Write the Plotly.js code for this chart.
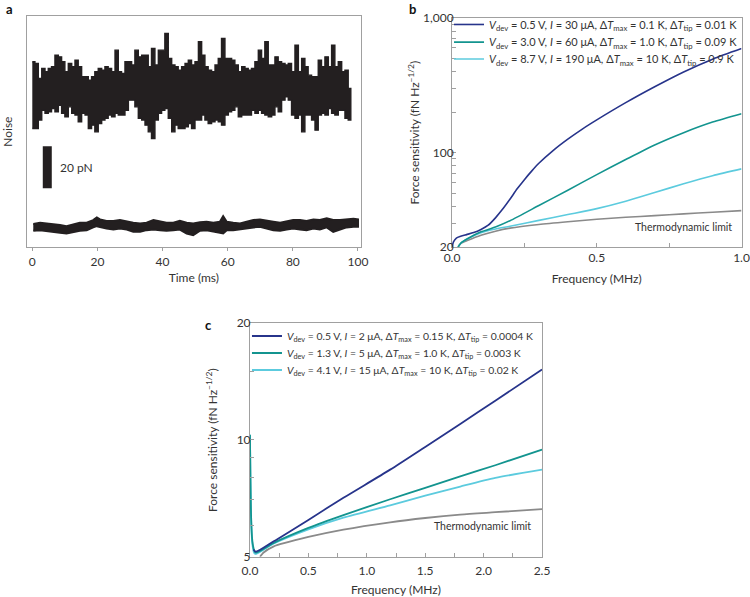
<!DOCTYPE html>
<html>
<head>
<meta charset="utf-8">
<script src="https://cdn.plot.ly/plotly-3.0.1.min.js"></script>
<style>html,body{margin:0;padding:0;background:#fff;}#chart{width:750px;height:597px;}</style>
</head>
<body>
<div id="chart"></div>
<script>
// ---------- Panel a: noise traces (pN), envelope ----------
const tUpper = [0.3,1.3,2.4,3.4,4.4,5.4,6.4,7.5,8.5,9.5,10.5,11.6,12.6,13.6,14.6,15.7,16.7,17.7,18.7,19.7,20.8,21.8,22.8,23.8,24.9,25.9,26.9,27.9,29.0,30.0,31.0,32.0,33.1,34.1,35.1,36.1,37.1,38.2,39.2,40.2,41.2,42.3,43.3,44.3,45.3,46.4,47.4,48.4,49.4,50.5,51.5,52.5,53.5,54.5,55.6,56.6,57.6,58.6,59.7,60.7,61.7,62.7,63.8,64.8,65.8,66.8,67.8,68.9,69.9,70.9,71.9,73.0,74.0,75.0,76.0,77.1,78.1,79.1,80.1,81.2,82.2,83.2,84.2,85.2,86.3,87.3,88.3,89.3,90.4,91.4,92.4,93.4,94.5,95.5,96.5,97.5];
const upperHigh = [88.3,87.5,80.3,85.1,83.5,85.1,85.9,91.4,90.6,88.3,83.5,87.5,85.9,89.0,85.9,81.1,81.1,79.5,81.1,83.5,85.1,84.3,85.9,85.1,83.5,93.8,83.5,82.7,88.3,88.3,86.7,93.8,90.6,91.4,91.4,85.9,94.6,86.7,93.8,93.8,101.7,89.8,86.7,85.9,84.3,85.9,87.5,89.0,86.7,88.3,97.8,91.4,85.9,84.3,83.5,86.7,89.8,99.4,89.8,89.8,89.0,86.7,83.5,85.9,85.1,84.3,85.1,88.3,93.8,89.8,97.8,86.7,86.7,90.6,88.3,87.5,86.7,87.5,83.5,96.2,83.5,89.8,85.9,81.9,81.1,81.1,89.0,85.9,90.6,85.9,96.2,85.9,88.3,83.5,84.3,75.6];
const upperLow = [56.5,56.5,60.5,65.2,63.7,64.4,66.0,64.4,67.6,63.7,62.1,66.8,63.7,62.9,59.7,63.7,62.9,56.5,58.1,54.9,58.9,60.5,61.3,62.9,62.1,63.7,62.9,62.9,65.2,70.0,70.0,66.8,61.3,60.5,58.1,54.9,51.7,60.5,63.7,65.2,66.0,61.3,54.9,58.1,56.5,56.5,57.3,58.9,56.5,60.5,60.5,62.9,60.5,58.9,59.7,60.5,59.7,58.1,62.9,64.4,65.2,66.8,62.1,62.9,62.9,62.9,65.2,63.7,65.2,63.7,62.9,62.1,62.9,66.8,64.4,70.0,71.6,70.0,62.9,61.3,62.9,54.9,62.9,62.9,60.5,55.7,62.9,63.7,62.9,66.0,63.7,62.9,65.2,65.2,61.3,60.5];

const tLower = [0.3,2.4,4.4,6.4,8.5,10.5,12.6,14.6,16.7,18.7,19.8,20.8,22.8,24.9,26.9,29.0,31.0,33.1,35.1,37.2,39.2,41.2,43.3,45.3,47.4,49.4,51.5,53.5,55.6,57.6,58.6,59.7,61.7,63.8,65.8,67.9,69.9,72.0,74.0,76.1,78.1,80.1,82.2,84.2,86.3,88.3,90.4,92.4,94.5,96.5,98.6,100.0];
const lowerHigh = [11.0,11.6,11.3,11.0,10.5,10.0,11.0,11.6,11.6,12.9,14.1,13.2,12.5,12.5,12.9,12.1,11.6,11.3,11.6,12.9,12.1,11.6,11.6,12.5,11.6,11.3,11.9,12.1,11.6,12.1,14.8,12.1,11.6,11.3,12.1,12.9,13.2,12.5,12.1,11.6,12.1,12.9,12.9,12.5,13.2,12.9,13.7,12.9,12.9,13.2,13.5,13.2];
const lowerLow = [7.8,8.1,7.8,7.3,6.8,6.5,7.3,7.8,8.1,9.4,10.0,9.7,8.9,8.4,8.9,8.4,7.3,7.3,8.1,8.4,8.1,7.8,8.1,8.4,6.5,5.7,7.8,8.1,7.3,6.8,6.5,8.1,8.1,8.4,8.9,9.4,9.7,8.9,8.1,7.8,8.4,8.9,8.4,8.1,8.9,8.4,9.4,7.3,8.4,9.4,9.7,9.7];

const scaleBarT = [4.6, 4.6];
const scaleBarPN = [28, 48];
const timeTicks = [0, 20, 40, 60, 80, 100];

// ---------- Panel b (frequency in MHz, sensitivity in fN Hz^-1/2) ----------
const bBlueF  = [0, 0.005, 0.015, 0.03, 0.05, 0.075, 0.1, 0.125, 0.15, 0.175, 0.2, 0.225, 0.25, 0.275, 0.3, 0.35, 0.4, 0.45, 0.5, 0.6, 0.7, 0.8, 0.9, 1.0];
const bBlueV  = [20, 21.8, 23.3, 24.0, 24.7, 25.6, 27.0, 29.0, 32.9, 38.2, 45.2, 54.0, 63.2, 73.1, 83.6, 104.3, 126.2, 150, 175.4, 235.5, 309, 398, 495, 593];
const bTealF  = [0.021, 0.03, 0.055, 0.1, 0.15, 0.2, 0.3, 0.4, 0.5, 0.6, 0.7, 0.8, 0.9, 1.0];
const bTealV  = [20, 21.3, 23.1, 25.9, 28.1, 31.3, 40.6, 52.8, 68.9, 89.1, 114.3, 141, 169, 195];
const bCyanF  = [0.021, 0.03, 0.055, 0.1, 0.15, 0.2, 0.3, 0.4, 0.5, 0.6, 0.7, 0.8, 0.9, 1.0];
const bCyanV  = [20, 21.3, 23.1, 25.5, 27.2, 28.5, 31.5, 34.8, 38.5, 43.7, 50.7, 58.9, 67.6, 76.0];
const bGrayF  = [0.021, 0.03, 0.055, 0.1, 0.15, 0.2, 0.3, 0.4, 0.5, 0.6, 0.7, 0.8, 0.9, 1.0];
const bGrayV  = [20, 21.2, 22.4, 24.4, 26.2, 27.6, 29.4, 30.8, 32.1, 33.2, 34.2, 35.2, 36.2, 37.2];

// ---------- Panel c ----------
const cBlueF  = [0.03, 0.05, 0.2, 0.5, 0.8, 1.2, 1.5, 1.8, 2.1, 2.5];
const cBlueV  = [5.22, 5.15, 5.47, 6.22, 7.09, 8.38, 9.59, 10.99, 12.61, 15.17];
const cTealF  = [0, 0.004, 0.01, 0.02, 0.035, 0.05, 0.2, 0.5, 0.8, 1.2, 1.5, 1.8, 2.1, 2.5];
const cTealV  = [10.3, 8.0, 6.3, 5.5, 5.2, 5.12, 5.42, 5.93, 6.4, 7.03, 7.52, 8.05, 8.6, 9.44];
const cCyanF  = [0, 0.004, 0.01, 0.02, 0.035, 0.05, 0.2, 0.5, 0.8, 1.2, 1.5, 1.8, 2.1, 2.5];
const cCyanV  = [10.3, 8.0, 6.2, 5.4, 5.12, 5.08, 5.4, 5.88, 6.3, 6.78, 7.18, 7.58, 7.98, 8.38];
const cGrayF  = [0.086, 0.1, 0.114, 0.2, 0.5, 0.8, 1.2, 1.5, 1.8, 2.1, 2.5];
const cGrayV  = [5.0, 5.06, 5.12, 5.31, 5.62, 5.87, 6.13, 6.29, 6.42, 6.51, 6.63];

const bLabels = [
  '<i>V</i><sub>dev</sub> = 0.5 V, <i>I</i> = 30 μA, Δ<i>T</i><sub>max</sub> = 0.1 K, Δ<i>T</i><sub>tip</sub> = 0.01 K',
  '<i>V</i><sub>dev</sub> = 3.0 V, <i>I</i> = 60 μA, Δ<i>T</i><sub>max</sub> = 1.0 K, Δ<i>T</i><sub>tip</sub> = 0.09 K',
  '<i>V</i><sub>dev</sub> = 8.7 V, <i>I</i> = 190 μA, Δ<i>T</i><sub>max</sub> = 10 K, Δ<i>T</i><sub>tip</sub> = 0.9 K'
];
const cLabels = [
  '<i>V</i><sub>dev</sub> = 0.5 V, <i>I</i> = 2 μA, Δ<i>T</i><sub>max</sub> = 0.15 K, Δ<i>T</i><sub>tip</sub> = 0.0004 K',
  '<i>V</i><sub>dev</sub> = 1.3 V, <i>I</i> = 5 μA, Δ<i>T</i><sub>max</sub> = 1.0 K, Δ<i>T</i><sub>tip</sub> = 0.003 K',
  '<i>V</i><sub>dev</sub> = 4.1 V, <i>I</i> = 15 μA, Δ<i>T</i><sub>max</sub> = 10 K, Δ<i>T</i><sub>tip</sub> = 0.02 K'
];
const bYTicks = [20, 100, 1000];
const bYTickText = ['20', '100', '1,000'];
const bYMinor = [30,40,50,60,70,80,90,200,300,400,500,600,700,800,900];
const cYTicks = [5, 10, 20];
const cYMinor = [6,7,8,9,15];
const yTitle = 'Force sensitivity (fN Hz<sup>−1/2</sup>)';

const colBlue = '#27348b', colTeal = '#13948f', colCyan = '#5ccbde', colGray = '#8a8a8a', ink = '#231f20';

// Filled noise band: stepped top envelope forward, stepped bottom envelope back
function bandStep(t, hi, lo) {
  const n = Math.min(t.length, hi.length, lo.length);
  const edge = i => (i <= 0 ? t[0] - 0.3 : i >= n ? t[n-1] + 0.3 : (t[i-1] + t[i]) / 2);
  const x = [], y = [];
  for (let i = 0; i < n; i++) { x.push(edge(i), edge(i+1)); y.push(hi[i], hi[i]); }
  for (let i = n - 1; i >= 0; i--) { x.push(edge(i+1), edge(i)); y.push(lo[i], lo[i]); }
  return {x, y};
}
function bandLine(t, hi, lo) {
  const n = Math.min(t.length, hi.length, lo.length);
  const x = [], y = [];
  for (let i = 0; i < n; i++) { x.push(t[i]); y.push(hi[i]); }
  for (let i = n - 1; i >= 0; i--) { x.push(t[i]); y.push(lo[i]); }
  return {x, y};
}
const up = bandStep(tUpper, upperHigh, upperLow);
const lo = bandLine(tLower, lowerHigh, lowerLow);

const sp = {shape: 'spline', smoothing: 0.7};
const traces = [
  {x: up.x, y: up.y, xaxis: 'x', yaxis: 'y', mode: 'lines', fill: 'toself', fillcolor: ink, line: {color: ink, width: 1.4}, showlegend: false, hoverinfo: 'skip'},
  {x: lo.x, y: lo.y, xaxis: 'x', yaxis: 'y', mode: 'lines', fill: 'toself', fillcolor: ink, line: {color: ink, width: 2}, showlegend: false, hoverinfo: 'skip'},
  {x: scaleBarT, y: scaleBarPN, xaxis: 'x', yaxis: 'y', mode: 'lines', line: {color: ink, width: 9}, showlegend: false, hoverinfo: 'skip'},

  {x: bGrayF, y: bGrayV, xaxis: 'x2', yaxis: 'y2', mode: 'lines', line: Object.assign({color: colGray, width: 1.6}, sp), showlegend: false},
  {x: bCyanF, y: bCyanV, xaxis: 'x2', yaxis: 'y2', mode: 'lines', line: Object.assign({color: colCyan, width: 1.6}, sp), name: bLabels[2], legend: 'legend3'},
  {x: bTealF, y: bTealV, xaxis: 'x2', yaxis: 'y2', mode: 'lines', line: Object.assign({color: colTeal, width: 1.6}, sp), name: bLabels[1], legend: 'legend2'},
  {x: bBlueF, y: bBlueV, xaxis: 'x2', yaxis: 'y2', mode: 'lines', line: Object.assign({color: colBlue, width: 1.6}, sp), name: bLabels[0], legend: 'legend'},

  {x: cGrayF, y: cGrayV, xaxis: 'x3', yaxis: 'y3', mode: 'lines', line: Object.assign({color: colGray, width: 1.8}, sp), showlegend: false},
  {x: cCyanF, y: cCyanV, xaxis: 'x3', yaxis: 'y3', mode: 'lines', line: Object.assign({color: colCyan, width: 1.8}, sp), name: cLabels[2], legend: 'legend6'},
  {x: cTealF, y: cTealV, xaxis: 'x3', yaxis: 'y3', mode: 'lines', line: Object.assign({color: colTeal, width: 1.8}, sp), name: cLabels[1], legend: 'legend5'},
  {x: cBlueF, y: cBlueV, xaxis: 'x3', yaxis: 'y3', mode: 'lines', line: Object.assign({color: colBlue, width: 1.8}, sp), name: cLabels[0], legend: 'legend4'}
];

const FONT = 'Lato, "Open Sans", sans-serif';
const txt = '#333';
const frame = {showline: true, linecolor: '#a0a0a0', linewidth: 1, mirror: true, showgrid: false, zeroline: false, tickcolor: '#a0a0a0', tickfont: {size: 12, color: txt}};
const tfont = {size: 12, color: txt};
const minorStyle = {ticks: 'inside', ticklen: 4, tickcolor: '#a0a0a0'};
function leg(x, y, size) {
  return {x: x, y: y, xanchor: 'left', yanchor: 'middle', bgcolor: 'rgba(0,0,0,0)', font: {size: size, color: txt}, itemwidth: 30};
}

const layout = {
  width: 750, height: 597,
  margin: {l: 0, r: 0, t: 0, b: 0, autoexpand: false},
  paper_bgcolor: '#fff', plot_bgcolor: '#fff',
  font: {family: FONT, size: 12, color: txt},
  xaxis: Object.assign({}, frame, {domain: [0.0356, 0.4813], anchor: 'y', range: [-1.72, 100.92], tickvals: timeTicks, ticks: 'outside', ticklen: 3,
    title: {text: 'Time (ms)', font: tfont, standoff: 6}}),
  yaxis: Object.assign({}, frame, {domain: [0.586, 0.973], anchor: 'x', range: [0, 110], showticklabels: false, ticks: '',
    title: {text: 'Noise', font: tfont, standoff: 12}}),
  xaxis2: Object.assign({}, frame, {domain: [0.6027, 0.9887], anchor: 'y2', range: [0, 1], tickvals: [0, 0.5, 1], ticktext: ['0.0', '0.5', '1.0'],
    ticks: 'inside', ticklen: 4, minor: Object.assign({tickvals: [0.25, 0.75]}, minorStyle),
    title: {text: 'Frequency (MHz)', font: tfont, standoff: 10}}),
  yaxis2: Object.assign({}, frame, {domain: [0.5863, 0.9698], anchor: 'x2', type: 'log', range: [Math.log10(20), 3], tickvals: bYTicks, ticktext: bYTickText,
    ticks: 'inside', ticklen: 4, ticklabelstandoff: -5, minor: Object.assign({tickvals: bYMinor}, minorStyle)}),
  xaxis3: Object.assign({}, frame, {domain: [0.3333, 0.7227], anchor: 'y3', range: [0, 2.5], tickvals: [0, 0.5, 1, 1.5, 2, 2.5], ticktext: ['0.0', '0.5', '1.0', '1.5', '2.0', '2.5'],
    ticks: 'inside', ticklen: 4, ticklabelstandoff: 3, minor: Object.assign({tickvals: [0.25, 0.75, 1.25, 1.75, 2.25]}, minorStyle),
    title: {text: 'Frequency (MHz)', font: tfont, standoff: 8}}),
  yaxis3: Object.assign({}, frame, {domain: [0.0675, 0.459], anchor: 'x3', type: 'log', range: [Math.log10(5), Math.log10(20)], tickvals: cYTicks, ticktext: ['5', '10', '20'],
    ticks: 'inside', ticklen: 4, ticklabelstandoff: -4, minor: Object.assign({tickvals: cYMinor}, minorStyle)}),
  legend:  leg(0.5987, 0.959, 11),
  legend2: leg(0.5987, 0.9295, 11),
  legend3: leg(0.5987, 0.9012, 11),
  legend4: leg(0.3293, 0.4372, 10.4),
  legend5: leg(0.3293, 0.4087, 10.4),
  legend6: leg(0.3293, 0.3802, 10.4),
  annotations: [
    {text: '<b>a</b>', xref: 'paper', yref: 'paper', x: 0.005, y: 0.985, xanchor: 'left', yanchor: 'middle', showarrow: false, font: {size: 13, color: '#111'}},
    {text: '<b>b</b>', xref: 'paper', yref: 'paper', x: 0.5427, y: 0.985, xanchor: 'left', yanchor: 'middle', showarrow: false, font: {size: 13, color: '#111'}},
    {text: '<b>c</b>', xref: 'paper', yref: 'paper', x: 0.271, y: 0.4556, xanchor: 'left', yanchor: 'middle', showarrow: false, font: {size: 13, color: '#111'}},
    {text: yTitle, xref: 'paper', yref: 'paper', x: 0.552, y: 0.778, xanchor: 'center', yanchor: 'middle', textangle: -90, showarrow: false, font: tfont},
    {text: yTitle, xref: 'paper', yref: 'paper', x: 0.2827, y: 0.263, xanchor: 'center', yanchor: 'middle', textangle: -90, showarrow: false, font: tfont},
    {text: 'Thermodynamic limit', xref: 'paper', yref: 'y2', x: 0.9787, y: 1.447, xanchor: 'right', yanchor: 'middle', showarrow: false, font: {size: 10.5, color: txt}},
    {text: 'Thermodynamic limit', xref: 'paper', yref: 'y3', x: 0.7107, y: 0.779, xanchor: 'right', yanchor: 'middle', showarrow: false, font: {size: 10.5, color: txt}},
    {text: '20 pN', xref: 'x', yref: 'y', x: 7.9, y: 38, xanchor: 'left', yanchor: 'middle', showarrow: false, font: {size: 12, color: txt}}
  ]
};

Plotly.newPlot('chart', traces, layout, {staticPlot: true, displayModeBar: false});
</script>
</body>
</html>
